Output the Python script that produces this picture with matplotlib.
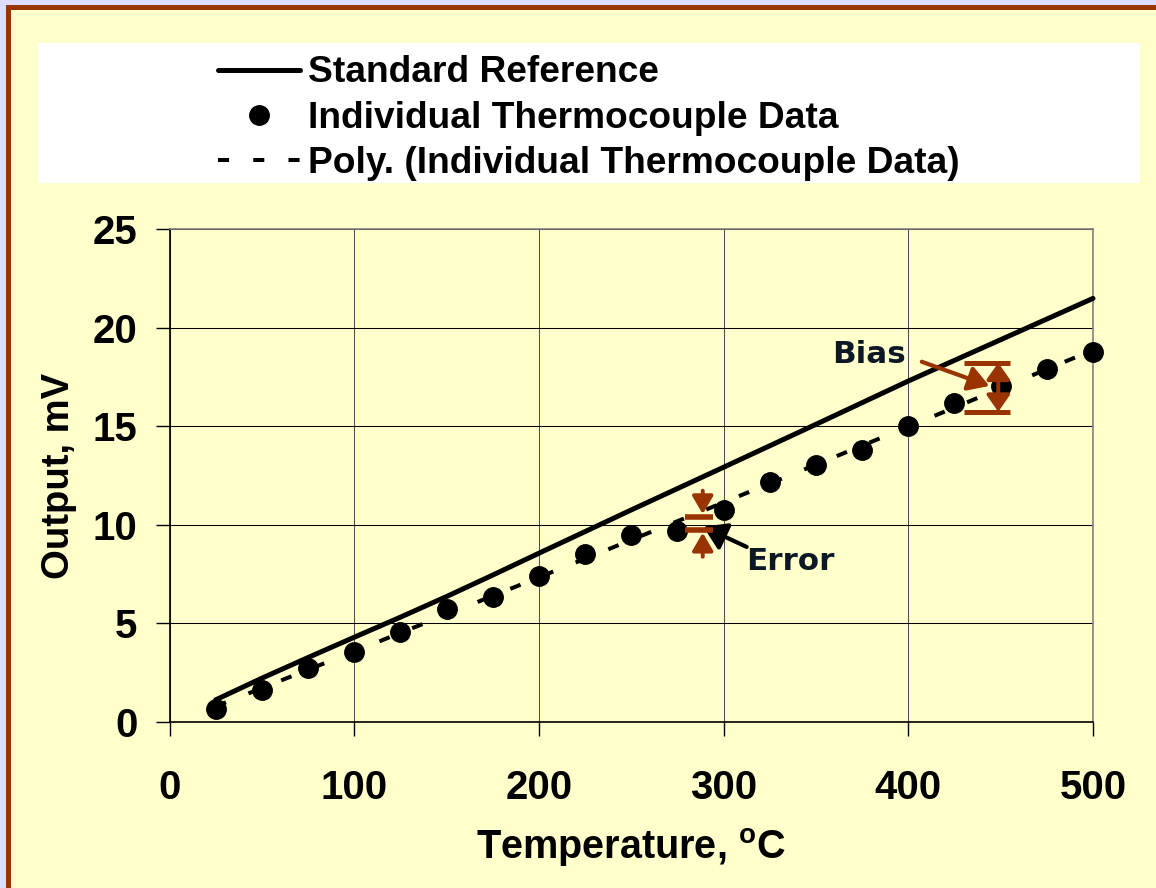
import numpy as np
import matplotlib
matplotlib.use('Agg')
import matplotlib.pyplot as plt
from matplotlib.patches import Rectangle

plt.rcParams['font.family'] = ['Liberation Sans', 'DejaVu Sans']
plt.rcParams['font.weight'] = 'bold'
plt.rcParams['axes.labelweight'] = 'bold'
plt.rcParams['mathtext.fontset'] = 'custom'
plt.rcParams['mathtext.rm'] = 'Liberation Sans:bold'
plt.rcParams['mathtext.bf'] = 'Liberation Sans:bold'

# colours
yellow = '#FFFFCC'
brown = '#993300'
lavender = '#DDDDFF'
navy = '#0C1826'

# standard reference curve, mV
ref_temp = [25, 50, 75, 100, 125, 150, 175, 200, 250, 300, 350, 400, 450, 500]
ref_mv = [1.1, 2.2, 3.25, 4.28, 5.3, 6.35, 7.44, 8.55, 10.75, 12.92, 15.1, 17.3, 19.4, 21.5]

# individual thermocouple readings, mV
tc_temp = [25, 50, 75, 100, 125, 150, 175, 200, 225, 250,
           275, 300, 325, 350, 375, 400, 425, 450, 475, 500]
tc_mv = [0.64, 1.60, 2.73, 3.52, 4.56, 5.72, 6.31, 7.40, 8.51, 9.46,
         9.70, 10.75, 12.19, 13.02, 13.80, 15.03, 16.20, 17.06, 17.91, 18.78]

# 2nd order trendline through the readings (like excel's "Poly.")
coef = np.polyfit(tc_temp, tc_mv, 2)
fit_x = np.linspace(tc_temp[0], tc_temp[-1], 200)
fit_y = np.polyval(coef, fit_x)

W, H = 1156, 888
fig = plt.figure(figsize=(W / 100, H / 100), dpi=100, facecolor=yellow)

# slide frame
def frect(x0, y0, x1, y1, c):
    # pixel box, y measured from the top
    fig.patches.append(Rectangle((x0 / W, 1 - y1 / H), (x1 - x0) / W, (y1 - y0) / H,
                                 transform=fig.transFigure, color=c, lw=0, zorder=-10))

frect(0, 0, W, 5, lavender)
frect(0, 0, 6, H, lavender)
frect(6, 5, W, 10.5, brown)
frect(6, 5, 11, H, brown)
frect(37.5, 43, 1140, 183, 'white')

ax = fig.add_axes([169.5 / W, 166.5 / H, 923.5 / W, 492 / H])
ax.set_facecolor(yellow)

ax.plot(ref_temp, ref_mv, color='black', lw=3.6, solid_capstyle='round',
        label='Standard Reference', clip_on=False, zorder=3)
ax.plot(tc_temp, tc_mv, 'o', color='black', ms=14,
        label='Individual Thermocouple Data', clip_on=False, zorder=3)
ax.plot(fit_x, fit_y, color='black', lw=2.9, linestyle=(0, (2.75, 6)),
        label='Poly. (Individual Thermocouple Data)', clip_on=False, zorder=3)

ax.set_xlim(0, 500)
ax.set_ylim(0, 25)
ax.set_xticks(range(0, 501, 100))
ax.set_yticks(range(0, 26, 5))
ax.yaxis.grid(True, color='black', lw=0.75)
ax.xaxis.grid(True, color='#505050', lw=0.75)
ax.set_axisbelow(True)
for s in ['left', 'bottom']:
    ax.spines[s].set_color('black')
    ax.spines[s].set_linewidth(1.2)
for s in ['top', 'right']:
    ax.spines[s].set_color('#808080')
    ax.spines[s].set_linewidth(1.2)

ax.tick_params(direction='out', length=10, width=1, labelsize=29)
ax.tick_params(axis='y', pad=13)
ax.tick_params(axis='x', pad=24)

ax.set_xlabel(r'Temperature, $^{\mathbf{o}}$C', fontsize=28.5)
ax.set_ylabel('Output, mV', fontsize=27.5)
ax.xaxis.set_label_coords(0.5, -0.213)
ax.yaxis.set_label_coords(-0.100, 0.5)

h, l = ax.get_legend_handles_labels()
fig.legend(h, l, loc='upper left', bbox_to_anchor=(218 / W, 1 - 55.5 / H),
           frameon=False, fontsize=26.7, handlelength=2.2, handletextpad=0.22,
           labelspacing=0.27, borderpad=0, borderaxespad=0, numpoints=1)

# annotations
note_font = dict(family='DejaVu Sans', weight='bold', fontsize=22.3, color=navy)
ax.text(358.5, 18.2, 'Bias', ha='left', va='baseline', **note_font)
ax.text(312.0, 7.70, 'Error', ha='left', va='baseline', **note_font)

ax.annotate('', xy=(443.9, 17.05), xytext=(407.3, 18.28),
            arrowprops=dict(arrowstyle='-|>,head_length=0.5,head_width=0.3',
                            color=brown, lw=3, mutation_scale=25, shrinkA=0, shrinkB=0))
ax.annotate('', xy=(289.0, 9.90), xytext=(312.5, 8.87),
            arrowprops=dict(arrowstyle='-|>,head_length=0.55,head_width=0.35',
                            color='black', lw=3, mutation_scale=25, shrinkA=0, shrinkB=0))

# bias bracket
for yb in [18.23, 15.74]:
    ax.plot([430.3, 455.0], [yb, yb], color=brown, lw=3.6, solid_capstyle='butt', zorder=4)
ax.annotate('', xy=(448.7, 15.74), xytext=(448.7, 18.23),
            arrowprops=dict(arrowstyle='<|-|>,head_length=0.5,head_width=0.35',
                            color=brown, lw=2.9, mutation_scale=20, shrinkA=0, shrinkB=0))

# error bracket
for yb in [10.41, 9.73]:
    ax.plot([279.3, 294.4], [yb, yb], color=brown, lw=4, solid_capstyle='butt', zorder=4)
ax.annotate('', xy=(288.7, 10.54), xytext=(288.7, 11.73),
            arrowprops=dict(arrowstyle='-|>,head_length=0.6,head_width=0.35',
                            color=brown, lw=2.8, mutation_scale=18, shrinkA=0, shrinkB=0))
ax.annotate('', xy=(288.7, 9.59), xytext=(288.7, 8.37),
            arrowprops=dict(arrowstyle='-|>,head_length=0.6,head_width=0.35',
                            color=brown, lw=2.8, mutation_scale=18, shrinkA=0, shrinkB=0))

fig.savefig('out.png', dpi=100, facecolor=yellow)
